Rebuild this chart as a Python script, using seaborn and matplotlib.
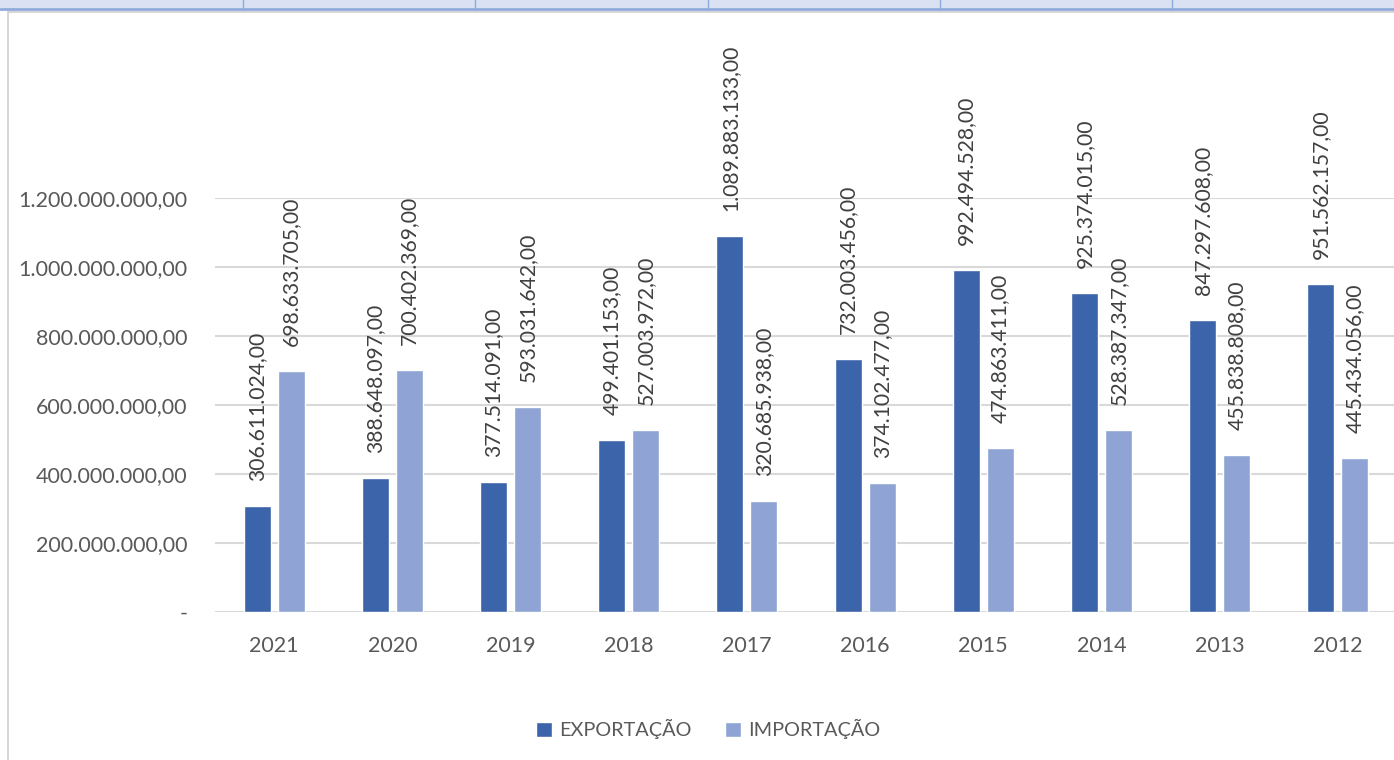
import pandas as pd
import matplotlib.pyplot as plt
import matplotlib.patches as mpatches
import seaborn as sns

# Data
years = ["2021", "2020", "2019", "2018", "2017", "2016", "2015", "2014", "2013", "2012"]
exportacao = [306611024, 388648097, 377514091, 499401153, 1089883133,
              732003456, 992494528, 925374015, 847297608, 951562157]
importacao = [698633705, 700402369, 593031642, 527003972, 320685938,
              374102477, 474863411, 528387347, 455838808, 445434056]
series = ["EXPORTAÇÃO", "IMPORTAÇÃO"]
y_ticks = [0, 200e6, 400e6, 600e6, 800e6, 1000e6, 1200e6]

colors = ["#3C64AA", "#8FA4D4"]


def br(v):
    # Brazilian number format: 1.234.567,00
    return f"{v:,.2f}".replace(",", "X").replace(".", ",").replace("X", ".")


df = pd.DataFrame({
    "ano": years * 2,
    "valor": exportacao + importacao,
    "tipo": [series[0]] * len(years) + [series[1]] * len(years),
})

sns.set_theme(style="white")
plt.rcParams["font.family"] = ["Lato", "DejaVu Sans"]

fig = plt.figure(figsize=(13.94, 7.6), dpi=100)
W, H = 1394, 760

# spreadsheet strip at the top + chart-area border (screenshot framing)
fig.patches.append(mpatches.Rectangle((0, 1 - 8 / H), 1, 8 / H, transform=fig.transFigure,
                                      facecolor="#D9E1F2", edgecolor="none"))
fig.add_artist(plt.Line2D([0, 1], [1 - 8.5 / H] * 2, color="#8EA9DB", lw=2, transform=fig.transFigure))
for xd in [243, 475, 708, 940, 1172]:
    fig.add_artist(plt.Line2D([xd / W] * 2, [1 - 8 / H, 1], color="#8EA9DB", lw=1,
                              transform=fig.transFigure))
fig.add_artist(plt.Line2D([8 / W, 1], [1 - 12 / H] * 2, color="#D0D0D0", lw=1.2, transform=fig.transFigure))
fig.add_artist(plt.Line2D([8 / W] * 2, [0, 1 - 12 / H], color="#D0D0D0", lw=1.2, transform=fig.transFigure))

ax = fig.add_axes([215 / W, (H - 612) / H, 1182 / W, 414 / H])

sns.barplot(data=df, x="ano", y="valor", hue="tipo", order=years, hue_order=series,
            palette=colors, width=0.575, gap=0.21, saturation=1, ax=ax, legend=True)

ax.set_ylim(0, 1200e6)
ax.set_xlim(-0.5, len(years) - 0.5)
ax.set_yticks(y_ticks)
ax.set_yticklabels(["-"] + [br(v) for v in y_ticks[1:]])
ax.yaxis.grid(True, color="#D9D9D9", lw=1.5)
ax.set_axisbelow(True)
for s in ax.spines.values():
    s.set_visible(False)
ax.tick_params(axis="y", length=0, pad=20, labelsize=15.5, labelcolor="#595959")
ax.tick_params(axis="x", length=0, pad=17, labelsize=15.5, labelcolor="#595959")
ax.set_xlabel("")
ax.set_ylabel("")

# value labels, rotated
for cont in ax.containers:
    for bar in cont:
        h = bar.get_height()
        ax.annotate(br(h), (bar.get_x() + bar.get_width() / 2, h),
                    xytext=(0, 18), textcoords="offset points",
                    rotation=90, ha="center", va="bottom",
                    fontsize=15.2, color="#404040", annotation_clip=False)

handles, labels = ax.get_legend_handles_labels()
ax.get_legend().remove()
fig.legend(handles, labels, loc="center", bbox_to_anchor=(708 / W, 1 - 729 / H), ncol=2,
           frameon=False, fontsize=14.3, handlelength=0.8, handleheight=0.8,
           handletextpad=0.35, columnspacing=1.7, labelcolor="#595959")

fig.savefig("out.png", dpi=100)
